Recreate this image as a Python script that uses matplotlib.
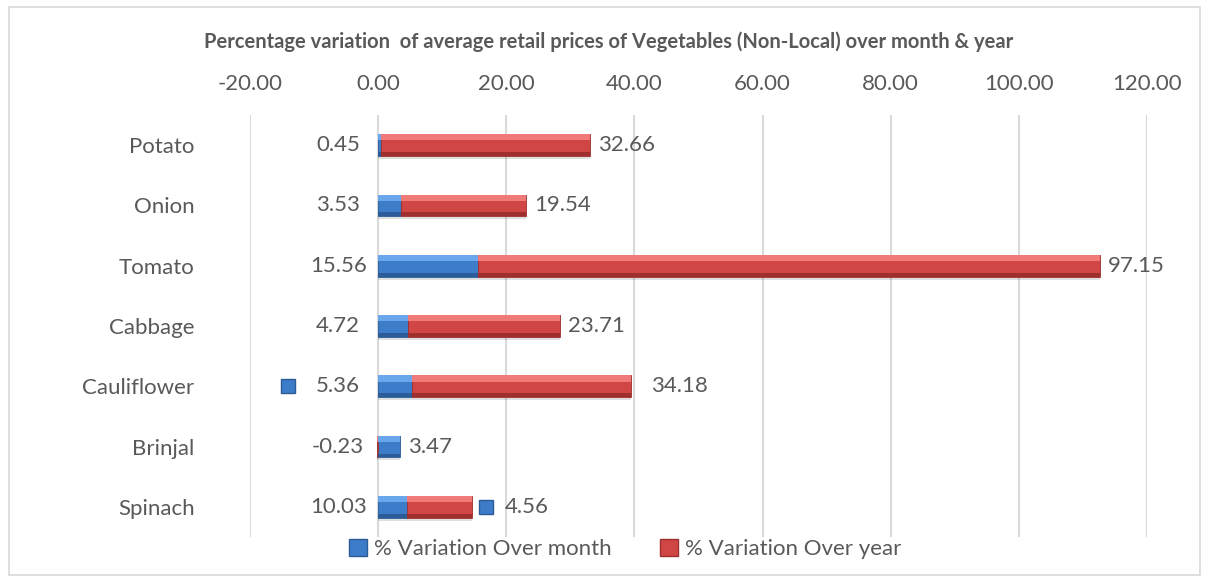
import matplotlib
matplotlib.use('Agg')
import matplotlib.pyplot as plt
import numpy as np
from matplotlib.patches import Patch, Rectangle
from matplotlib.transforms import offset_copy

# data
categories = ['Potato', 'Onion', 'Tomato', 'Cabbage', 'Cauliflower', 'Brinjal', 'Spinach']
over_month = [0.45, 3.53, 15.56, 4.72, 5.36, 3.47, 4.56]
over_year = [32.66, 19.54, 97.15, 23.71, 34.18, -0.23, 10.03]
left_label_vals = [0.45, 3.53, 15.56, 4.72, 5.36, -0.23, 10.03]
right_label_vals = [32.66, 19.54, 97.15, 23.71, 34.18, 3.47, 4.56]
x_ticks = [-20, 0, 20, 40, 60, 80, 100, 120]
title = 'Percentage variation  of average retail prices of Vegetables (Non-Local) over month & year'
series_names = ['% Variation Over month', '% Variation Over year']

plt.rcParams['font.family'] = ['Lato', 'DejaVu Sans']
TXT = '#595959'
BLUE = ('#3d7cc9', '#6aa6ec', '#2b5c98')   # body, highlight, shade
RED = ('#cf4644', '#f07a78', '#9e2f2e')
FS = 16

fig = plt.figure(figsize=(12.09, 5.81), dpi=100)
ax = fig.add_axes([250 / 1209, 1 - 537 / 581, 897 / 1209, 422 / 581])

month = np.array(over_month)
year = np.array(over_year)
y = np.arange(len(categories))
h = 0.36

# excel stacks positives on top of the positive stack, negatives from zero
year_left = np.where(year >= 0, month, 0)


def bevel_bar(left, width, colors):
    body, hi, lo = colors
    ax.barh(y + 0.05, width, height=h, left=left, color='#000000', alpha=0.12, zorder=2)
    ax.barh(y, width, height=h, left=left, color=body, edgecolor=lo, linewidth=0.6, zorder=3)
    ax.barh(y - h * 0.36, width, height=h * 0.28, left=left, color=hi, linewidth=0, zorder=4)
    ax.barh(y + h * 0.41, width, height=h * 0.18, left=left, color=lo, linewidth=0, zorder=4)


def key_marker(x, yy, dx):
    tr = offset_copy(ax.transData, fig=fig, x=dx, y=0, units='dots')
    ax.plot([x], [yy], marker='s', markersize=14 * 0.72, color=BLUE[0],
            markeredgecolor=BLUE[2], transform=tr, clip_on=False, zorder=5)


bevel_bar(np.zeros(len(y)), month, BLUE)
bevel_bar(year_left, year, RED)

ax.set_xlim(-20, 120)
ax.set_ylim(len(categories) - 0.5, -0.5)
ax.set_xticks(x_ticks)
ax.set_xticklabels(['%.2f' % t for t in x_ticks])
ax.xaxis.tick_top()
ax.tick_params(axis='x', length=0, pad=15, labelsize=FS, labelcolor=TXT)
ax.set_yticks(y)
ax.set_yticklabels(categories)
ax.tick_params(axis='y', length=0, pad=40, labelsize=FS, labelcolor=TXT)
ax.grid(axis='x', color='#d9d9d9', linewidth=1.5)
ax.set_axisbelow(True)
for s in ax.spines.values():
    s.set_visible(False)

pos_end = month + np.where(year > 0, year, 0)
left_key = [False, False, False, False, True, False, False]
right_key = [False, False, False, False, False, False, True]
right_gap = [8, 8, 8, 8, 20, 8, 33]
pt = 0.72  # points per pixel at 100 dpi

for i in range(len(categories)):
    ax.annotate('%.2f' % left_label_vals[i], (0, y[i]), xytext=(-40 * pt, 0),
                textcoords='offset points', ha='center', va='center',
                fontsize=FS, color=TXT, annotation_clip=False)
    ax.annotate('%.2f' % right_label_vals[i], (pos_end[i], y[i]), xytext=(right_gap[i] * pt, 0),
                textcoords='offset points', ha='left', va='center',
                fontsize=FS, color=TXT, annotation_clip=False)
    if left_key[i]:
        key_marker(0, y[i], -90)
    if right_key[i]:
        key_marker(pos_end[i], y[i], 14)

fig.text(609 / 1209, 1 - 42 / 581, title, ha='center', va='center',
         fontsize=14.5, fontweight='bold', color=TXT)

handles = [Patch(facecolor=BLUE[0], edgecolor=BLUE[2]), Patch(facecolor=RED[0], edgecolor=RED[2])]
fig.legend(handles, series_names, loc='center', bbox_to_anchor=(625 / 1209, 1 - 549 / 581),
           ncol=2, frameon=False, fontsize=FS, labelcolor=TXT, handlelength=0.8,
           handleheight=0.8, handletextpad=0.3, columnspacing=2.2)

fig.patches.append(Rectangle((9 / 1209, 6 / 581), 1191 / 1209, 568 / 581, transform=fig.transFigure,
                             fill=False, edgecolor='#d9d9d9', linewidth=1.2))

fig.savefig('out.png', dpi=100)
